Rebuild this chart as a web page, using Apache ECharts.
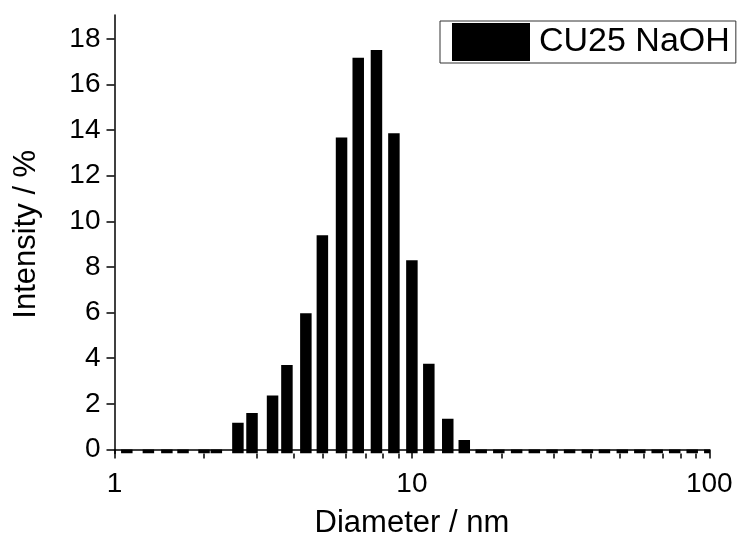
<!DOCTYPE html>
<html>
<head>
<meta charset="utf-8">
<script src="https://cdn.jsdelivr.net/npm/echarts@6/dist/echarts.min.js"></script>
<style>
  html, body { margin: 0; padding: 0; background: #fff; }
  #chart { width: 738px; height: 535px; }
</style>
</head>
<body>
<div id="chart"></div>
<script>
// Diameter bins (nm) and intensity (%)
const diameters = [
  1.1, 1.3, 1.5, 1.7, 2.0, 2.2, 2.6, 2.9, 3.4, 3.8, 4.4, 5.0, 5.8, 6.6, 7.6, 8.7, 10.0,
  11.4, 13.2, 15.0, 17.1, 19.6, 22.5, 25.8, 29.6, 33.9, 38.9, 44.4, 51.0, 58.4, 66.8,
  76.5, 87.6, 100.4
]
const intensity = [
  0, 0, 0, 0, 0, 0, 1.17, 1.6, 2.36, 3.7, 5.97, 9.39, 13.68, 17.17, 17.52, 13.86, 8.3,
  3.76, 1.34, 0.41, 0, 0, 0, 0, 0, 0, 0, 0, 0, 0, 0,
  0, 0, 0
]
const seriesName = 'CU25 NaOH'
const xMajorTicks = [1, 10, 100]
const xMinorTicks = [2, 3, 4, 5, 6, 7, 8, 9, 20, 30, 40, 50, 60, 70, 80, 90]
const yTicks = [0, 2, 4, 6, 8, 10, 12, 14, 16, 18]

const yMin = -0.18
const yMax = 19.05
const barWidth = 11.5
const font = 'Liberation Sans, Arial, sans-serif'

const chart = echarts.init(document.getElementById('chart'))

const axisLine = { show: true, lineStyle: { color: '#000', width: 1.5 } }

const option = {
  animation: false,
  color: ['#000'],
  grid: { left: 114.5, right: 28.7, top: 15, bottom: 81.5, containLabel: false, outerBoundsMode: 'none' },
  legend: {
    data: [{ name: seriesName, icon: 'rect' }],
    left: 440,
    top: 21,
    padding: [2, 6, 2, 12],
    borderColor: '#333',
    borderWidth: 1,
    itemWidth: 78,
    itemHeight: 38,
    textStyle: { fontFamily: font, fontSize: 34, color: '#000', padding: [0, 0, 0, 4] },
  },
  xAxis: [
    {
      type: 'log',
      logBase: 10,
      min: 1,
      max: 100,
      name: 'Diameter / nm',
      nameLocation: 'middle',
      nameGap: 54,
      nameTextStyle: { fontFamily: font, fontSize: 31, color: '#000' },
      axisLine: axisLine,
      axisTick: { show: true, inside: false, length: 9, customValues: xMajorTicks, lineStyle: { color: '#000', width: 1.5 } },
      axisLabel: { customValues: xMajorTicks, margin: 17, fontFamily: font, fontSize: 28, color: '#000' },
      splitLine: { show: false },
    },
    {
      type: 'log',
      logBase: 10,
      min: 1,
      max: 100,
      position: 'bottom',
      axisLine: { show: false },
      axisTick: { show: true, inside: false, length: 5, customValues: xMinorTicks, lineStyle: { color: '#000', width: 1.5 } },
      axisLabel: { show: false },
      splitLine: { show: false },
    },
  ],
  yAxis: {
    type: 'value',
    min: yMin,
    max: yMax,
    name: 'Intensity / %',
    nameLocation: 'middle',
    nameGap: 73,
    nameTextStyle: { fontFamily: font, fontSize: 31, color: '#000' },
    axisLine: axisLine,
    axisTick: { show: true, inside: false, length: 8, customValues: yTicks, lineStyle: { color: '#000', width: 1.5 } },
    axisLabel: { customValues: yTicks, margin: 14, fontFamily: font, fontSize: 28, color: '#000' },
    splitLine: { show: false },
  },
  series: [
    {
      name: seriesName,
      type: 'custom',
      xAxisIndex: 0,
      clip: true,
      itemStyle: { color: '#000' },
      encode: { x: 0, y: 1 },
      data: diameters.map((d, i) => [d, intensity[i]]),
      renderItem: (params, api) => {
        const top = api.coord([api.value(0), api.value(1)])
        const bottom = api.coord([api.value(0), yMin])
        return {
          type: 'rect',
          shape: { x: top[0] - barWidth / 2, y: top[1], width: barWidth, height: bottom[1] - top[1] },
          style: { fill: '#000' },
        }
      },
    },
  ],
}

chart.setOption(option)
</script>
</body>
</html>
